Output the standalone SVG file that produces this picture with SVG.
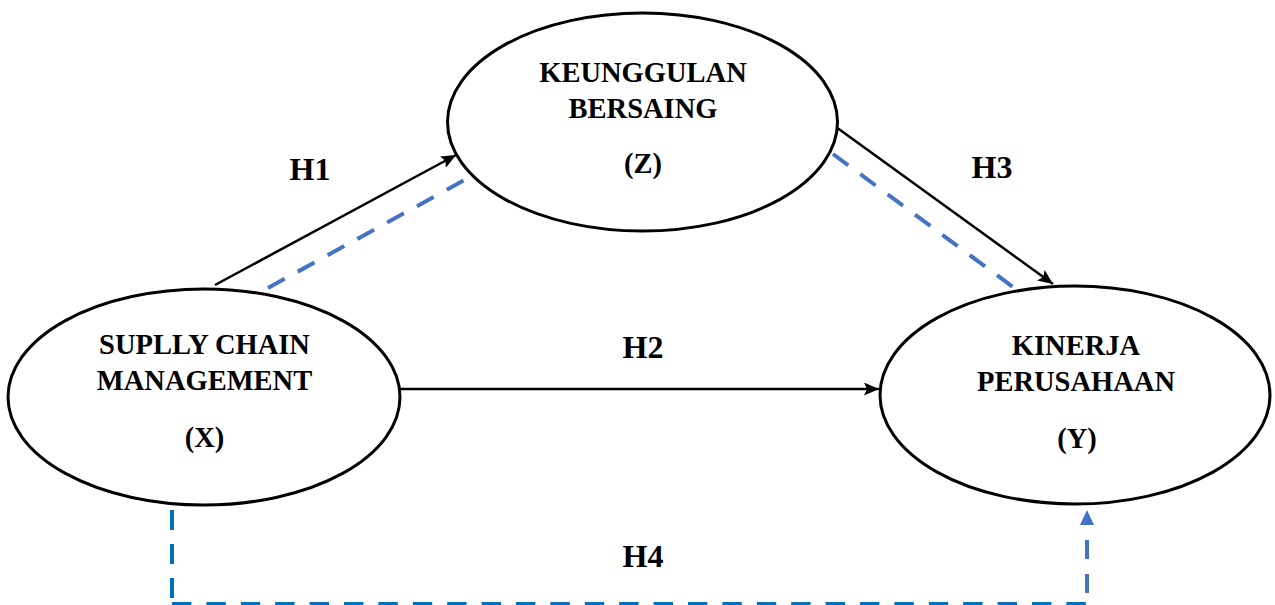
<svg xmlns="http://www.w3.org/2000/svg" width="1275" height="605" viewBox="0 0 1275 605">
<style>
.node{fill:#fff;stroke:#000;stroke-width:3}
.t{font-family:"Liberation Serif","Times New Roman",serif;font-weight:bold;font-size:28.5px;fill:#000;text-anchor:middle}
.h{font-family:"Liberation Serif","Times New Roman",serif;font-weight:bold;font-size:32px;fill:#000;text-anchor:middle}
.solid{stroke:#000;stroke-width:2.5;fill:none}
.dash{stroke:#4472C4;stroke-width:4;fill:none;stroke-dasharray:19 15}
.dash4{stroke:#0070C0;stroke-width:4;fill:none}
</style>
<defs>
<marker id="ab" markerWidth="16" markerHeight="13" refX="15" refY="6.5" orient="auto" markerUnits="userSpaceOnUse" viewBox="0 0 16 13">
<path d="M0,0 L15,6.5 L0,13 L3,6.5 z" fill="#000"/>
</marker>
<marker id="bb" markerWidth="15" markerHeight="14" refX="0" refY="7" orient="auto" markerUnits="userSpaceOnUse" viewBox="0 0 15 14">
<path d="M0,0 L15,7 L0,14 z" fill="#4472C4"/>
</marker>
</defs>
<g id="connectors">
<line class="solid" x1="215" y1="285" x2="456" y2="155" marker-end="url(#ab)"/>
<line class="solid" x1="836" y1="127" x2="1053" y2="284" marker-end="url(#ab)"/>
<line class="solid" x1="400" y1="389" x2="879" y2="389" marker-end="url(#ab)"/>
<line class="dash" x1="268" y1="288" x2="470" y2="177"/>
<line class="dash" x1="833" y1="154" x2="1013" y2="287"/>
<line class="dash4" x1="172" y1="510" x2="172" y2="604" stroke-dasharray="20 14"/>
<line class="dash4" x1="172" y1="604" x2="1087" y2="604" stroke-dasharray="19.4 15"/>
<line class="dash" x1="1087" y1="593" x2="1087" y2="525" stroke-dasharray="21 14" marker-end="url(#bb)"/>
</g>
<g id="node-z">
<ellipse class="node" cx="642.5" cy="122" rx="195" ry="109"/>
<text class="t" x="643" y="82">KEUNGGULAN</text>
<text class="t" x="643" y="118">BERSAING</text>
<text class="t" x="643" y="173">(Z)</text>
</g>
<g id="node-x">
<ellipse class="node" cx="204" cy="397" rx="196" ry="108"/>
<text class="t" x="204.5" y="354">SUPLLY CHAIN</text>
<text class="t" x="204.5" y="390">MANAGEMENT</text>
<text class="t" x="204.5" y="447">(X)</text>
</g>
<g id="node-y">
<ellipse class="node" cx="1075" cy="395" rx="195" ry="109"/>
<text class="t" x="1076" y="355">KINERJA</text>
<text class="t" x="1076" y="391">PERUSAHAAN</text>
<text class="t" x="1077" y="448">(Y)</text>
</g>
<g id="labels">
<text class="h" x="310" y="180">H1</text>
<text class="h" x="643" y="358">H2</text>
<text class="h" x="992" y="178">H3</text>
<text class="h" x="643" y="567">H4</text>
</g>
</svg>
